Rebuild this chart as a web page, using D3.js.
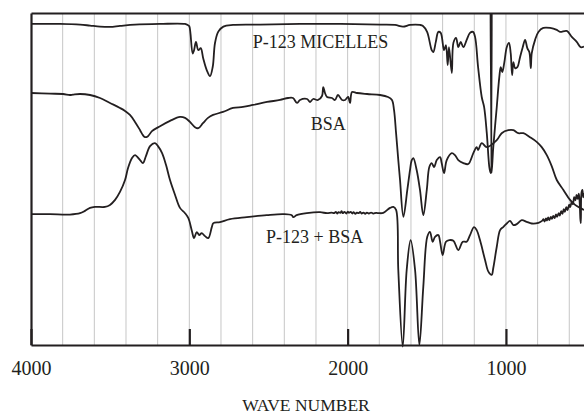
<!DOCTYPE html>
<html><head><meta charset="utf-8">
<script src="https://cdn.jsdelivr.net/npm/d3@7"></script>
<style>html,body{margin:0;padding:0;background:#fff;} svg{display:block;}</style>
</head><body><svg id="chart" width="584" height="414"></svg>
<script>
// [wavenumber (cm-1), transmittance (a.u., offset)]
const p123Micelles = [[4000,96.7],[3817,96.7],[3690,96.5],[3627,96.2],[3564,95.9],[3501,95.8],[3438,96.1],[3343,96.5],[3185,96.7],[3027,96.7],[3008,96.3],[3000,96.0],[2979,87.8],[2970,88.8],[2958,91.3],[2943,88.8],[2928,89.4],[2912,86.3],[2890,82.8],[2869,81.0],[2852,83.8],[2838,90.9],[2817,94.4],[2785,95.9],[2724,96.4],[2553,96.5],[2301,96.7],[2044,96.7],[1793,96.5],[1701,96.4],[1650,95.9],[1606,96.4],[1543,96.4],[1524,96.1],[1498,94.3],[1469,88.8],[1459,88.2],[1443,91.3],[1427,94.3],[1412,94.0],[1391,88.8],[1379,90.3],[1368,84.3],[1360,89.7],[1342,81.9],[1332,91.0],[1315,92.5],[1301,89.7],[1286,91.3],[1269,89.7],[1248,91.9],[1227,94.0],[1208,94.3],[1195,92.8],[1176,83.7],[1153,74.7],[1138,71.7],[1121,63.8],[1105,53.6],[1097,51.8],[1094.5,115],[1093.5,115],[1091,51.8],[1080,59.6],[1058,71.7],[1042,80.7],[1033,83.7],[1023,82.2],[1010,85.2],[995,89.7],[981,91.0],[970,87.9],[961,81.3],[953,85.2],[942,83.4],[928,83.7],[911,86.7],[894,89.7],[879,91.9],[865,89.4],[852,88.2],[843,83.4],[837,87.9],[816,91.9],[795,94.3],[764,95.5],[721,95.5],[679,94.9],[658,94.3],[616,94.6],[584,92.8],[553,91.3],[528,89.7],[507,89.9]];

const bsa = [[4000,75.9],[3880,75.7],[3798,75.6],[3754,75.3],[3735,75.4],[3690,75.6],[3627,75.3],[3564,74.4],[3501,72.9],[3438,71.4],[3406,70.5],[3375,69.3],[3343,67.2],[3311,64.7],[3293,63.2],[3280,62.6],[3261,62.9],[3236,64.4],[3185,65.9],[3122,67.5],[3059,68.7],[3027,68.4],[2996,67.2],[2964,65.6],[2943,65.3],[2914,66.8],[2882,68.4],[2850,69.3],[2787,70.2],[2724,71.4],[2661,71.7],[2598,72.3],[2509,73.2],[2427,73.8],[2376,74.4],[2345,74.4],[2320,72.9],[2301,73.8],[2256,74.1],[2237,73.2],[2218,74.1],[2187,73.8],[2162,75.0],[2154,77.7],[2143,75.9],[2130,74.7],[2099,74.4],[2080,73.8],[2061,75.3],[2035,73.8],[2016,73.8],[1997,74.7],[1985,72.9],[1972,76.2],[1941,75.9],[1877,75.6],[1795,75.3],[1745,74.7],[1720,73.8],[1707,70.8],[1694,63.8],[1680,55.7],[1669,49.7],[1648,38.6],[1623,46.7],[1606,52.7],[1595,55.7],[1585,56.3],[1564,52.7],[1543,46.7],[1522,39.1],[1500,46.7],[1484,53.6],[1469,54.8],[1454,53.6],[1437,55.7],[1416,56.6],[1406,54.8],[1391,51.8],[1374,55.7],[1342,57.8],[1322,57.2],[1301,55.7],[1269,54.8],[1238,54.5],[1206,57.8],[1185,59.6],[1176,58.7],[1153,60.8],[1121,59.6],[1058,61.7],[1027,63.8],[985,64.7],[953,64.7],[922,63.8],[890,63.8],[848,62.6],[806,61.2],[774,59.6],[742,57.2],[711,53.9],[679,49.7],[637,46.7],[595,43.7],[563,42.2],[532,41.3],[507,40.7]];

const p123PlusBsa = [[4000,39.4],[3880,39.4],[3754,39.3],[3690,39.7],[3659,40.4],[3627,41.3],[3596,41.6],[3533,41.6],[3501,42.2],[3469,43.7],[3438,46.1],[3406,49.7],[3387,53.3],[3362,56.3],[3343,57.2],[3311,55.7],[3293,54.8],[3274,56.9],[3248,59.9],[3217,60.8],[3198,59.9],[3172,57.8],[3147,54.2],[3122,49.7],[3090,45.2],[3059,41.3],[3027,39.7],[3006,38.2],[2985,34.6],[2970,32.2],[2953,34.0],[2937,33.1],[2922,33.7],[2901,32.8],[2880,32.2],[2858,35.5],[2848,36.7],[2806,37.0],[2743,37.9],[2637,38.5],[2511,39.1],[2406,39.4],[2353,39.1],[2343,38.5],[2322,39.1],[2258,39.7],[2174,40.0],[2130,39.7],[2100,39.9],[2085,39.7],[2074,40.1],[2066,39.6],[2057,40.0],[2046,39.8],[2038,40.3],[2031,39.7],[2020,40.1],[2008,39.6],[1999,40.2],[1992,39.8],[1981,40.1],[1970,39.6],[1963,40.0],[1951,39.5],[1942,39.9],[1930,39.7],[1921,40.1],[1912,39.6],[1900,39.9],[1889,39.5],[1878,39.9],[1866,39.6],[1852,39.9],[1838,39.6],[1820,39.8],[1800,39.7],[1775,39.8],[1732,41.3],[1711,41.6],[1694,40.7],[1680,22.6],[1652,-0.5],[1627,22.6],[1602,31.6],[1574,22.6],[1547,0],[1522,17.6],[1497,32.6],[1480,34.1],[1463,31.1],[1448,32.6],[1427,33.1],[1416,31.1],[1400,27.1],[1379,31.1],[1358,31.6],[1332,31.4],[1301,28.6],[1273,31.1],[1248,31.1],[1227,33.1],[1202,35.5],[1185,34.6],[1164,31.6],[1132,25.6],[1111,22.1],[1090,21.1],[1080,23.2],[1058,29.6],[1037,34.6],[1016,35.6],[995,36.6],[974,37.4],[953,36.1],[932,36.4],[900,37.6],[869,37.1],[837,36.6],[795,36.8],[772,37.4],[763,37.9],[756,37.2],[747,38.1],[741,37.5],[733,38.4],[726,37.6],[716,38.6],[709,38.0],[701,38.9],[693,38.2],[684,39.3],[677,38.6],[667,39.7],[660,39.0],[651,40.3],[643,39.5],[635,40.9],[628,40.1],[619,41.5],[611,40.6],[601,42.3],[594,41.5],[585,43.1],[577,42.4],[569,44.5],[561,43.6],[554,45.2],[547,44.0],[540,45.6],[535,43.5],[530,38.0],[527,36.7],[523,45.8],[517,46.7],[512,44.5],[507,45.8]];

const xTickValues = [4000, 3000, 2000, 1000];
const gridValues = [3800, 3600, 3400, 3200, 3000, 2800, 2600, 2400, 2200, 2000, 1800, 1600, 1400, 1200, 1000, 800, 600];
const labelTexts = ["P-123 MICELLES", "BSA", "P-123 + BSA"];
const labelWaves = [2172, 2122, 2208];
const labelValues = [89.4, 64.7, 30.7];
const xTitle = "WAVE NUMBER";

const svg = d3.select("#chart");
const ink = "#231f20";
const font = "'Liberation Serif', 'Times New Roman', serif";

const x = d3.scaleLinear().domain([4000, 507]).range([31, 584]);
const y = d3.scaleLinear().domain([0, 100]).range([345, 13]);

svg.append("defs").append("clipPath").attr("id", "plotclip")
  .append("rect").attr("x", 31).attr("y", 13).attr("width", 553).attr("height", 360);

// grid
svg.append("g").selectAll("line").data(gridValues).join("line")
  .attr("x1", d => x(d)).attr("x2", d => x(d))
  .attr("y1", y(100)).attr("y2", y(0))
  .attr("stroke", "#c6c6c6").attr("stroke-width", 1);

// series
const line = d3.line().x(d => x(d[0])).y(d => y(d[1])).curve(d3.curveCatmullRom.alpha(0.5));
const g = svg.append("g").attr("clip-path", "url(#plotclip)");
[p123Micelles, bsa, p123PlusBsa].forEach(s => {
  g.append("path").datum(s).attr("d", line)
    .attr("fill", "none").attr("stroke", ink).attr("stroke-width", 1.8)
    .attr("stroke-linejoin", "round");
});

// axes
const xAxis = svg.append("g").attr("transform", `translate(0,${y(0)})`)
  .call(d3.axisBottom(x).tickValues(xTickValues).tickFormat(d3.format("d"))
        .tickSizeInner(-16).tickSizeOuter(0).tickPadding(16));
xAxis.select(".domain").attr("stroke", ink).attr("stroke-width", 2.2);
xAxis.selectAll(".tick line").attr("stroke", ink).attr("stroke-width", 2.2);
xAxis.selectAll(".tick text").attr("fill", ink).style("font-family", font).style("font-size", "20px");

const yAxis = svg.append("g").attr("transform", `translate(${x(4000)},0)`)
  .call(d3.axisLeft(y).tickValues([]).tickSizeOuter(0));
yAxis.select(".domain").attr("stroke", ink).attr("stroke-width", 2.2);

const topAxis = svg.append("g").attr("transform", `translate(0,${y(100)})`)
  .call(d3.axisTop(x).tickValues([]).tickSizeOuter(0));
topAxis.select(".domain").attr("stroke", ink).attr("stroke-width", 2.2);

// series labels
svg.append("g").selectAll("text").data(labelTexts).join("text")
  .attr("x", (d, i) => x(labelWaves[i])).attr("y", (d, i) => y(labelValues[i]))
  .attr("text-anchor", "middle").attr("fill", ink)
  .style("font-family", font).style("font-size", "18px")
  .text(d => d);

// axis title
svg.append("text").attr("x", 306).attr("y", 411).attr("text-anchor", "middle")
  .attr("fill", ink).style("font-family", font).style("font-size", "17.5px")
  .text(xTitle);
</script></body></html>
